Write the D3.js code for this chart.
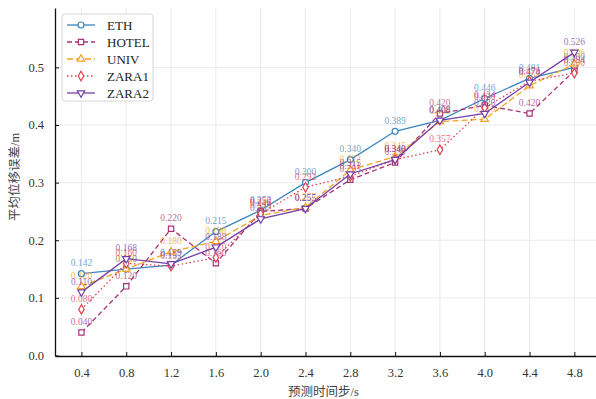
<!DOCTYPE html>
<html>
<head>
<meta charset="utf-8">
<script src="https://cdn.jsdelivr.net/npm/d3@7"></script>
<style>
  body { margin: 0; background: #fff; }
  svg { display: block; }
</style>
</head>
<body>
<div id="chart"></div>
<script>
// time steps (s)
var steps = [0.4, 0.8, 1.2, 1.6, 2.0, 2.4, 2.8, 3.2, 3.6, 4.0, 4.4, 4.8];
var xTicks = steps;
var yTicks = [0.0, 0.1, 0.2, 0.3, 0.4, 0.5];

var eth   = [0.142, 0.150, 0.157, 0.215, 0.252, 0.300, 0.340, 0.389, 0.408, 0.446, 0.481, 0.500];
var hotel = [0.040, 0.120, 0.220, 0.160, 0.250, 0.255, 0.305, 0.335, 0.420, 0.434, 0.420, 0.494];
var univ  = [0.120, 0.150, 0.180, 0.198, 0.243, 0.257, 0.322, 0.345, 0.406, 0.410, 0.468, 0.506];
var zara1 = [0.080, 0.160, 0.155, 0.170, 0.246, 0.292, 0.311, 0.340, 0.357, 0.430, 0.476, 0.490];
var zara2 = [0.110, 0.168, 0.159, 0.188, 0.237, 0.255, 0.315, 0.340, 0.408, 0.420, 0.474, 0.526];

var series = [
  {name: "ETH",   values: eth,   color: "#3b84bd", dash: null,    marker: "circle"},
  {name: "HOTEL", values: hotel, color: "#a83279", dash: "5,3",   marker: "square"},
  {name: "UNIV",  values: univ,  color: "#f5a320", dash: "6,3",   marker: "tri"},
  {name: "ZARA1", values: zara1, color: "#e0424c", dash: "1.5,2.5", marker: "diamond"},
  {name: "ZARA2", values: zara2, color: "#7440a6", dash: null,    marker: "tridown"}
];

var W = 596, H = 399;
var margin = {top: 8, right: 0, bottom: 43, left: 55};
var width = W - margin.left - margin.right,
    height = H - margin.top - margin.bottom;

var svg = d3.select("#chart").append("svg")
  .attr("width", W).attr("height", H)
  .style("font-family", "'Liberation Serif', 'Noto Sans CJK SC', serif");

var g = svg.append("g")
  .attr("transform", "translate(" + margin.left + "," + margin.top + ")");

var x = d3.scaleLinear().domain([0.164, 5.02]).range([0, width + 3]);
var y = d3.scaleLinear().domain([0, 0.603]).range([height - 0.5, 0]);

// grid
g.append("g").selectAll("line").data(xTicks).enter().append("line")
  .attr("x1", function(d) { return x(d); }).attr("x2", function(d) { return x(d); })
  .attr("y1", 0).attr("y2", height)
  .attr("stroke", "#e6e6e6").attr("stroke-width", 0.8);
g.append("g").selectAll("line").data(yTicks.slice(1)).enter().append("line")
  .attr("y1", function(d) { return y(d); }).attr("y2", function(d) { return y(d); })
  .attr("x1", 0).attr("x2", width)
  .attr("stroke", "#e6e6e6").attr("stroke-width", 0.8);

// axes
var xAxis = g.append("g")
  .attr("transform", "translate(0," + height + ")")
  .call(d3.axisBottom(x).tickValues(xTicks).tickFormat(d3.format(".1f")).tickSizeInner(-4).tickSizeOuter(0).tickPadding(12));
var yAxis = g.append("g")
  .call(d3.axisLeft(y).tickValues(yTicks).tickFormat(d3.format(".1f")).tickSizeInner(-4).tickSizeOuter(0).tickPadding(11));

[xAxis, yAxis].forEach(function(a) {
  a.select(".domain").attr("stroke", "#111").attr("stroke-width", 1.3);
  a.selectAll(".tick line").attr("stroke", "#111").attr("stroke-width", 1);
  a.selectAll(".tick text").attr("fill", "#333").style("font-size", "12.5px")
    .style("font-family", "'Liberation Serif', serif");
});

// marker symbols
function markerPath(type) {
  if (type === "circle") return d3.symbol().type(d3.symbolCircle).size(28)();
  if (type === "square") return d3.symbol().type(d3.symbolSquare).size(28)();
  if (type === "diamond") return d3.symbol().type(d3.symbolDiamond).size(26)();
  return d3.symbol().type(d3.symbolTriangle).size(24)();
}

var line = d3.line()
  .x(function(d, i) { return x(steps[i]); })
  .y(function(d) { return y(d); });

series.forEach(function(s) {
  var sg = g.append("g");
  sg.append("path")
    .datum(s.values)
    .attr("d", line)
    .attr("fill", "none")
    .attr("stroke", s.color)
    .attr("stroke-width", 1.3)
    .attr("stroke-dasharray", s.dash);

  sg.selectAll(".mk").data(s.values).enter().append("path")
    .attr("d", markerPath(s.marker))
    .attr("transform", function(d, i) {
      return "translate(" + x(steps[i]) + "," + y(d) + ")" + (s.marker === "tridown" ? " rotate(180)" : "");
    })
    .attr("fill", "#fff")
    .attr("stroke", s.color)
    .attr("stroke-width", 1.2);

  sg.selectAll(".lb").data(s.values).enter().append("text")
    .attr("x", function(d, i) { return x(steps[i]); })
    .attr("y", function(d) { return y(d) - 7.5; })
    .attr("text-anchor", "middle")
    .attr("fill", s.color)
    .attr("fill-opacity", 0.75)
    .style("font-size", "9.5px")
    .text(function(d) { return d3.format(".3f")(d); });
});

// legend
var lg = g.append("g").attr("transform", "translate(7,6)");
lg.append("rect")
  .attr("width", 91).attr("height", 87).attr("rx", 3)
  .attr("fill", "#fff").attr("fill-opacity", 0.85)
  .attr("stroke", "#d6d6d6").attr("stroke-width", 1);

series.forEach(function(s, i) {
  var row = lg.append("g").attr("transform", "translate(0," + (11 + i * 17) + ")");
  row.append("line")
    .attr("x1", 5).attr("x2", 33).attr("y1", 0).attr("y2", 0)
    .attr("stroke", s.color).attr("stroke-width", 1.3)
    .attr("stroke-dasharray", s.dash);
  row.append("path")
    .attr("d", markerPath(s.marker))
    .attr("transform", "translate(19,0)" + (s.marker === "tridown" ? " rotate(180)" : ""))
    .attr("fill", "#fff").attr("stroke", s.color).attr("stroke-width", 1.2);
  row.append("text")
    .attr("x", 45).attr("y", 4.5)
    .attr("fill", "#222")
    .style("font-size", "13px")
    .text(s.name);
});

// axis titles
svg.append("text")
  .attr("x", margin.left + width / 2 - 2)
  .attr("y", H - 3)
  .attr("text-anchor", "middle")
  .attr("fill", "#444")
  .style("font-size", "12.5px")
  .text("预测时间步/s");

svg.append("text")
  .attr("transform", "translate(19," + (margin.top + height / 2 - 5) + ") rotate(-90)")
  .attr("text-anchor", "middle")
  .attr("fill", "#444")
  .style("font-size", "12.5px")
  .text("平均位移误差/m");
</script>
</body>
</html>
